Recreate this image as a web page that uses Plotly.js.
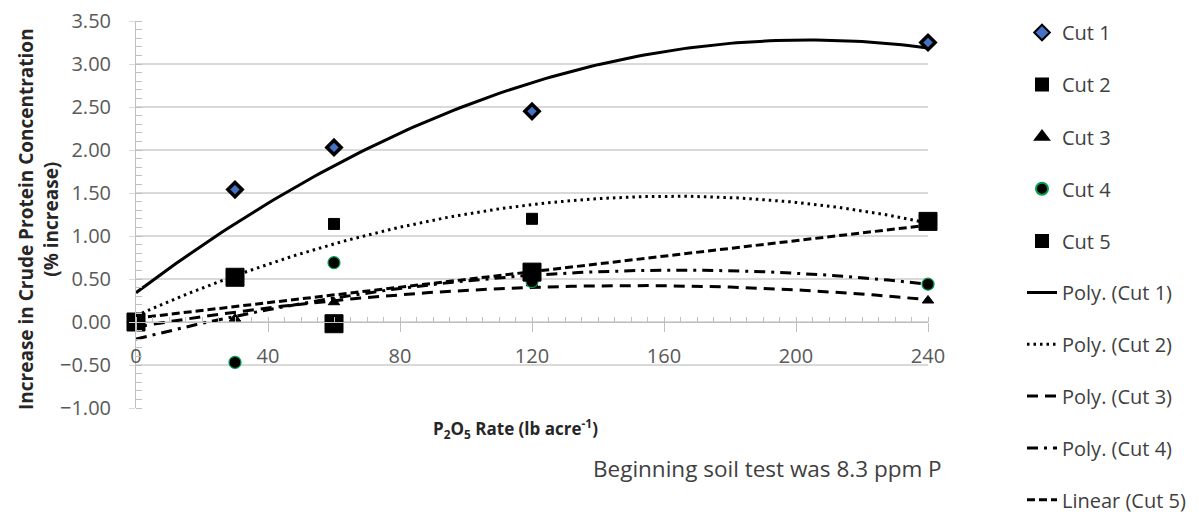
<!DOCTYPE html>
<html>
<head>
<meta charset="utf-8">
<script src="https://cdn.plot.ly/plotly-3.0.1.min.js"></script>
<style>html,body{margin:0;padding:0;background:#fff;}#chart{width:1199px;height:517px;}</style>
</head>
<body>
<div id="chart"></div>
<script>
// ---- data ----
const xRates = [0, 30, 60, 120, 240];
const cut1 = [0, 1.54, 2.03, 2.45, 3.25];
const cut2 = [0, 0.52, 1.14, 1.20, 1.18];
const cut3 = [0, 0.04, 0.23, 0.45, 0.25];
const cut4 = [0, -0.47, 0.69, 0.47, 0.44];
const cut5 = [0, 0.52, -0.02, 0.58, 1.17];
const seriesNames = ['Cut 1', 'Cut 2', 'Cut 3', 'Cut 4', 'Cut 5'];
const trendNames = ['Poly. (Cut 1)', 'Poly. (Cut 2)', 'Poly. (Cut 3)', 'Poly. (Cut 4)', 'Linear (Cut 5)'];
const xTicks = [0, 40, 80, 120, 160, 200, 240];

// ---- least-squares fits (as the spreadsheet trendlines) ----
function polyfit(xs, ys, deg) {
  const n = deg + 1;
  const A = [];
  for (let i = 0; i < n; i++) {
    A.push([]);
    for (let j = 0; j < n; j++) A[i].push(xs.reduce((s, x) => s + Math.pow(x, i + j), 0));
    A[i].push(xs.reduce((s, x, k) => s + Math.pow(x, i) * ys[k], 0));
  }
  for (let c = 0; c < n; c++) {
    let p = c;
    for (let r = c + 1; r < n; r++) if (Math.abs(A[r][c]) > Math.abs(A[p][c])) p = r;
    [A[c], A[p]] = [A[p], A[c]];
    for (let r = 0; r < n; r++) {
      if (r === c) continue;
      const f = A[r][c] / A[c][c];
      for (let k = c; k <= n; k++) A[r][k] -= f * A[c][k];
    }
  }
  return A.map((row, i) => row[n] / row[i]);
}
function evalFit(coef, xs) { return xs.map(x => coef.reduce((s, c, i) => s + c * Math.pow(x, i), 0)); }
const xFine = [];
for (let x = xRates[0]; x <= xRates[xRates.length - 1]; x += 2) xFine.push(x);

const allY = [cut1, cut2, cut3, cut4, cut5];
const degs = [2, 2, 2, 2, 1];
const dashes = ['solid', '2.5px,4px', '11px,7px', '11px,6px,3px,6px', '8px,4px'];

const markerStyles = [
  {symbol: 'diamond', size: 11, color: '#4472c4', line: {color: '#000', width: 3.5}},
  {symbol: 'square', size: 11, color: '#000', line: {color: '#000', width: 1}},
  {symbol: 'triangle-up', size: 10, color: '#000', line: {color: '#000', width: 1}},
  {symbol: 'circle', size: 12, color: '#000', line: {color: '#00a050', width: 1.2}},
  {symbol: 'square', size: 18, color: '#000', line: {color: '#000', width: 1}}
];

const traces = [];
allY.forEach((ys, i) => {
  const coef = polyfit(xRates, ys, degs[i]);
  traces.push({
    x: xFine, y: evalFit(coef, xFine), type: 'scatter', mode: 'lines',
    name: trendNames[i], legend: 'legend2', legendgroup: 't' + i, legendrank: 100 + i,
    line: {color: '#000', width: 3, dash: dashes[i]}, hoverinfo: 'skip'
  });
});
allY.forEach((ys, i) => {
  traces.push({
    x: xRates, y: ys, type: 'scatter', mode: 'markers', cliponaxis: false,
    name: seriesNames[i], legend: 'legend', legendgroup: 'c' + i, legendrank: 100 + i,
    marker: markerStyles[i]
  });
});

const L = 136, R = 928, T = 21, B = 408, W = 1199, H = 517;
const px = v => (v - L) / (R - L);
const py = v => (B - v) / (B - T);
const font = 'Open Sans, Noto Sans, sans-serif';
const legFont = {family: font, size: 20, color: '#404040'};

const layout = {
  width: W, height: H,
  margin: {l: L, r: W - R, t: T, b: H - B, pad: 0, autoexpand: false},
  paper_bgcolor: '#fff', plot_bgcolor: '#fff',
  font: {family: font, size: 20, color: '#595959'},
  showlegend: true,
  legend: {
    x: px(1022), y: py(13), xanchor: 'left', yanchor: 'top',
    traceorder: 'grouped', tracegroupgap: 23.1, itemsizing: 'constant',
    font: legFont, bgcolor: 'rgba(0,0,0,0)'
  },
  legend2: {
    x: px(1022), y: py(273), xanchor: 'left', yanchor: 'top',
    traceorder: 'grouped', tracegroupgap: 22.8,
    font: legFont, bgcolor: 'rgba(0,0,0,0)'
  },
  xaxis: {
    range: [0, 240], tickvals: xTicks, ticktext: xTicks.map(String),
    anchor: 'free', position: 1 / 4.5,
    showgrid: false, zeroline: false,
    showline: true, linecolor: '#bfbfbf', linewidth: 1,
    ticks: 'outside', ticklen: 9, tickcolor: '#bfbfbf', tickwidth: 1,
    minor: {dtick: 5, tick0: 0, ticks: 'inside', ticklen: 5, tickcolor: '#bfbfbf', showgrid: false},
    ticklabelstandoff: 7,
    tickfont: {family: font, size: 20, color: '#595959'}
  },
  yaxis: {
    range: [-1, 3.5], dtick: 0.5, tick0: 0, tickformat: '.2f',
    showgrid: true, gridcolor: '#d9d9d9', gridwidth: 1.3,
    zeroline: false,
    showline: true, linecolor: '#bfbfbf', linewidth: 1,
    ticks: 'outside', ticklen: 6, tickcolor: '#d9d9d9',
    minor: {dtick: 0.1, ticks: 'inside', ticklen: 6, tickcolor: '#bfbfbf', showgrid: false},
    ticklabelstandoff: 14,
    tickfont: {family: font, size: 20, color: '#595959'}
  },
  annotations: [
    {text: '<b>P<sub>2</sub>O<sub>5</sub> Rate (lb acre<sup>-1</sup>)</b>', xref: 'paper', yref: 'paper',
     x: px(515), y: py(428), xanchor: 'center', yanchor: 'middle', showarrow: false,
     font: {family: font, size: 17, color: '#262626'}},
    {text: '<b>Increase in Crude Protein Concentration<br>(% increase)</b>', xref: 'paper', yref: 'paper',
     x: px(38), y: py(219), xanchor: 'center', yanchor: 'middle', textangle: -90, showarrow: false,
     font: {family: font, size: 19, color: '#262626'}},
    {text: 'Beginning soil test was 8.3 ppm P', xref: 'paper', yref: 'paper',
     x: px(944), y: py(468), xanchor: 'right', yanchor: 'middle', showarrow: false,
     font: {family: font, size: 22.5, color: '#404040'}}
  ]
};

Plotly.newPlot('chart', traces, layout, {displayModeBar: false, staticPlot: true});
</script>
</body>
</html>
